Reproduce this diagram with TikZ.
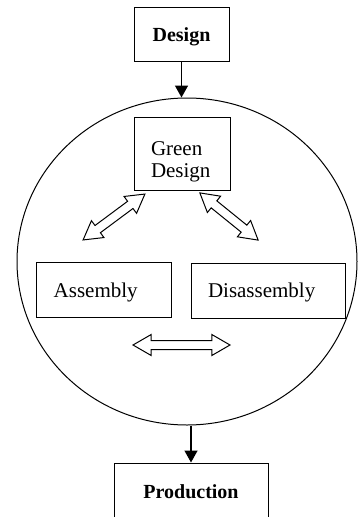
\documentclass[tikz,border=0pt]{standalone}
\usepackage{fontspec}
\setmainfont{Liberation Serif}
\usetikzlibrary{shapes.geometric,shapes.arrows,arrows.meta}
\tikzset{
  boxnode/.style={draw, line width=1pt, rectangle, inner xsep=17pt, inner ysep=0pt,
    align=left, font=\fontsize{21}{21.7}\selectfont, text depth=0pt},
  boldbox/.style={draw, line width=1pt, rectangle, inner sep=0pt, align=center,
    font=\fontsize{20}{22}\selectfont\bfseries, text depth=0pt},
  hollowarrow/.style={double arrow, draw, line width=1pt, inner xsep=0pt, inner ysep=4pt,
    double arrow head extend=6pt, double arrow tip angle=60},
  flowarrow/.style={line width=1.5pt, -{Triangle[length=12pt,width=13pt]}}
}
\begin{document}
\begin{tikzpicture}[x=1pt,y=1pt]
\useasboundingbox (0,0) rectangle (357,-517);
\node[draw, ellipse, line width=1pt, inner sep=0pt, minimum width=340pt, minimum height=327pt] (circ) at (187,-261.5) {};
\node[boldbox, minimum width=95pt, minimum height=54.4pt] (design) at (181.5,-34.5) {Design};
\node[boxnode, text width=62pt, minimum width=96pt, minimum height=73pt, text depth=9pt] (green) at (182,-153.5) {Green\\Design};
\node[boxnode, text width=101pt, minimum width=135pt, minimum height=55.4pt] (asm) at (104.2,-290) {Assembly};
\node[boxnode, text width=120pt, minimum width=154pt, minimum height=55pt] (dis) at (268,-290.5) {Disassembly};
\node[boldbox, minimum width=154pt, minimum height=58pt] (prod) at (191,-492) {Production};
\node[hollowarrow, minimum height=77pt, rotate=36.6] (da1) at (114,-217) {};
\node[hollowarrow, minimum height=75pt, rotate=-39] (da2) at (229,-216.5) {};
\node[hollowarrow, minimum height=97pt] (da3) at (181.5,-345) {};
\draw[flowarrow] (design.south) -- (design.south |- circ.north);
\draw[flowarrow] (prod.north |- circ.south) -- (prod.north);
\end{tikzpicture}
\end{document}
